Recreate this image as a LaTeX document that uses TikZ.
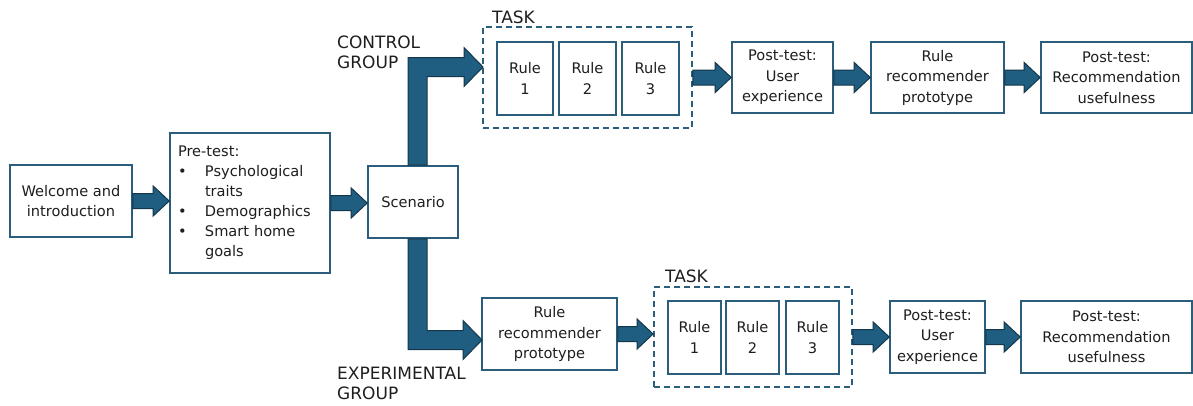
\documentclass[tikz,border=0pt]{standalone}
\usepackage{fontspec}
\setmainfont{DejaVu Sans}
\usetikzlibrary{calc}
\definecolor{arrowfill}{HTML}{1F5E80}
\definecolor{arrowline}{HTML}{14364A}
\definecolor{boxline}{HTML}{2B5D7C}
\definecolor{txt}{HTML}{1E1E1E}
\tikzset{
 box/.style={draw=boxline, line width=1.6pt, fill=white, align=center, inner sep=0pt, text=txt, font=\fontsize{14.6}{20.5}\selectfont},
 taskbox/.style={draw=boxline, line width=1.8pt, dash pattern=on 6pt off 4pt, inner sep=0pt},
 lbl/.style={text=txt, font=\fontsize{17}{20}\selectfont, align=left, inner sep=0pt},
 fat/.style={fill=arrowfill, draw=arrowline, line width=1pt, line join=miter},
}
\newcommand\fatarr[2]{\path[fat] let \p1=(#1.east), \p2=(#2.west) in (\x1,\y1+7.5pt) -- (\x2-16pt,\y1+7.5pt) -- (\x2-16pt,\y1+15pt) -- (\x2,\y1) -- (\x2-16pt,\y1-15pt) -- (\x2-16pt,\y1-7.5pt) -- (\x1,\y1-7.5pt) -- cycle;}
\begin{document}
\begin{tikzpicture}[x=1pt,y=-1pt]
\useasboundingbox (0,0) rectangle (1193,405);
% left part
\node[box, minimum width=122pt, minimum height=72pt] (wel) at (71,201) {Welcome and\\introduction};
\node[box, text width=144pt, inner xsep=8pt, minimum height=140pt, align=left, font=\fontsize{14.6}{20}\selectfont] (pre) at (250,203) {Pre-test:\\\makebox[27pt][l]{•}Psychological\\\hspace*{27pt}traits\\\makebox[27pt][l]{•}Demographics\\\makebox[27pt][l]{•}Smart home\\\hspace*{27pt}goals};
\node[box, minimum width=90pt, minimum height=72pt] (scen) at (413,202) {Scenario};
% control group row
\node[taskbox, minimum width=209pt, minimum height=101pt] (taskT) at (587.5,77.5) {};
\node[lbl, anchor=west] (taskTl) at (492,17) {TASK};
\node[box, minimum width=56pt, minimum height=73pt] (r1T) at (525,78.5) {Rule\\1};
\node[box, minimum width=57pt, minimum height=73pt] (r2T) at (587.5,78.5) {Rule\\2};
\node[box, minimum width=57pt, minimum height=73pt] (r3T) at (650.5,78.5) {Rule\\3};
\node[box, minimum width=101pt, minimum height=71pt] (ptT) at (782.5,77.5) {Post-test:\\User\\experience};
\node[box, minimum width=133pt, minimum height=71pt] (rrT) at (937.5,77.5) {Rule\\recommender\\prototype};
\node[box, minimum width=151pt, minimum height=71pt] (prT) at (1116.5,77.5) {Post-test:\\Recommendation\\usefulness};
\node[lbl, anchor=west] (ctl) at (337,52) {CONTROL\\GROUP};
% experimental group row
\node[box, minimum width=135pt, minimum height=72pt] (rrB) at (549.5,334) {Rule\\recommender\\prototype};
\node[taskbox, minimum width=198pt, minimum height=100pt] (taskB) at (753,337) {};
\node[lbl, anchor=west] (taskBl) at (665,276) {TASK};
\node[box, minimum width=53pt, minimum height=73pt] (r1B) at (694.5,337.5) {Rule\\1};
\node[box, minimum width=53pt, minimum height=73pt] (r2B) at (752.5,337.5) {Rule\\2};
\node[box, minimum width=53pt, minimum height=73pt] (r3B) at (812.5,337.5) {Rule\\3};
\node[box, minimum width=95pt, minimum height=72pt] (ptB) at (937.5,337) {Post-test:\\User\\experience};
\node[box, minimum width=171pt, minimum height=72pt] (prB) at (1106.5,337) {Post-test:\\Recommendation\\usefulness};
\node[lbl, anchor=west] (exl) at (337,383) {EXPERIMENTAL\\GROUP};
% tips of the group arrows
\coordinate (ctip) at (483,67);
\coordinate (etip) at (482,340);
% straight fat arrows
\fatarr{wel}{pre}
\fatarr{pre}{scen}
\fatarr{taskT}{ptT}
\fatarr{ptT}{rrT}
\fatarr{rrT}{prT}
\fatarr{rrB}{taskB}
\fatarr{taskB}{ptB}
\fatarr{ptB}{prB}
% bent group arrows
\path[fat] let \p1=(scen.north), \p2=(ctip) in (\x1-5pt,\y1) -- (\x1-5pt,\y2+9.5pt) -- (\x2-19pt,\y2+9.5pt) -- (\x2-19pt,\y2+19.5pt) -- (\x2,\y2) -- (\x2-19pt,\y2-19.5pt) -- (\x2-19pt,\y2-9.5pt) -- (\x1+14pt,\y2-9.5pt) -- (\x1+14pt,\y1) -- cycle;
\path[fat] let \p1=(scen.south), \p2=(etip) in (\x1-5pt,\y1) -- (\x1-5pt,\y2-9.5pt) -- (\x2-19pt,\y2-9.5pt) -- (\x2-19pt,\y2-19.5pt) -- (\x2,\y2) -- (\x2-19pt,\y2+19.5pt) -- (\x2-19pt,\y2+9.5pt) -- (\x1+14pt,\y2+9.5pt) -- (\x1+14pt,\y1) -- cycle;
\end{tikzpicture}
\end{document}
